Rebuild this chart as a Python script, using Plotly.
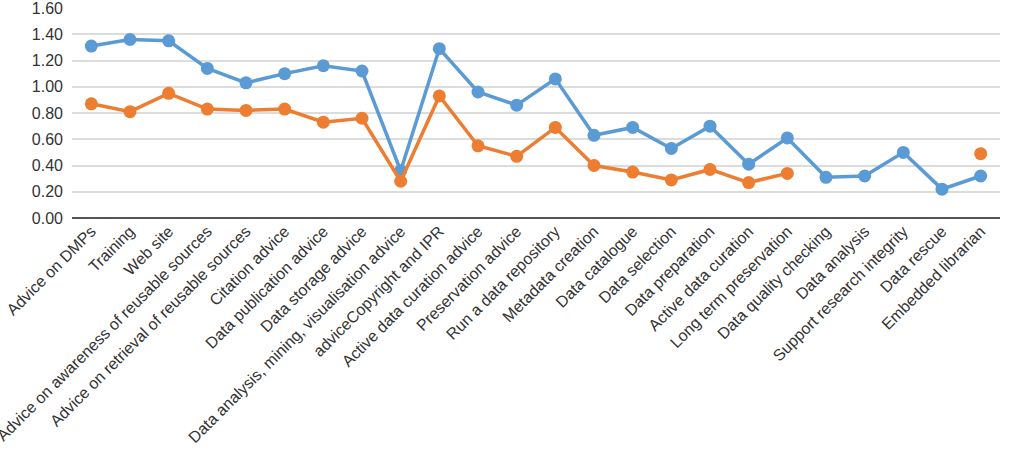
import plotly.graph_objects as go

categories = ["Advice on DMPs", "Training", "Web site", "Advice on awareness of reusable sources",
              "Advice on retrieval of reusable sources", "Citation advice", "Data publication advice",
              "Data storage advice", "Data analysis, mining, visualisation advice", "adviceCopyright and IPR",
              "Active data curation advice", "Preservation advice", "Run a data repository",
              "Metadata creation", "Data catalogue", "Data selection", "Data preparation",
              "Active data curation", "Long term preservation", "Data quality checking",
              "Data analysis", "Support research integrity", "Data rescue", "Embedded librarian"]

blue_values = [1.31, 1.36, 1.35, 1.14, 1.03, 1.10, 1.16, 1.12, 0.36, 1.29, 0.96, 0.86, 1.06,
               0.63, 0.69, 0.53, 0.70, 0.41, 0.61, 0.31, 0.32, 0.50, 0.22, 0.32]
orange_values = [0.87, 0.81, 0.95, 0.83, 0.82, 0.83, 0.73, 0.76, 0.28, 0.93, 0.55, 0.47, 0.69,
                 0.40, 0.35, 0.29, 0.37, 0.27, 0.34, None, None, None, None, 0.49]

y_ticks = [0.0, 0.2, 0.4, 0.6, 0.8, 1.0, 1.2, 1.4, 1.6]

x = list(range(len(categories)))

fig = go.Figure()
fig.add_trace(go.Scatter(x=x, y=blue_values, mode="lines+markers",
                         line=dict(color="#5B9BD5", width=3.5),
                         marker=dict(color="#5B9BD5", size=13), connectgaps=False))
fig.add_trace(go.Scatter(x=x, y=orange_values, mode="lines+markers",
                         line=dict(color="#ED7D31", width=3.5),
                         marker=dict(color="#ED7D31", size=13), connectgaps=False))

fig.update_layout(
    width=1012, height=453,
    margin=dict(l=72, r=12, t=8, b=235, autoexpand=False),
    paper_bgcolor="white", plot_bgcolor="white",
    showlegend=False,
    font=dict(family="Liberation Sans, Arial, sans-serif", color="#333333"),
)
fig.update_xaxes(
    tickmode="array", tickvals=x, ticktext=categories, tickangle=-45,
    range=[-0.5, len(categories) - 0.5], showgrid=False, automargin=False,
    showline=False, zeroline=False, tickfont=dict(size=16, color="#333333"),
    ticklabeloverflow="allow",
)
fig.update_yaxes(
    tickmode="array", tickvals=y_ticks, ticktext=[f"{v:.2f}" for v in y_ticks],
    range=[0, 1.6], showgrid=True, gridcolor="#dcdcdc", gridwidth=1.5,
    zeroline=True, zerolinecolor="#555555", zerolinewidth=2,
    automargin=False, tickfont=dict(size=16, color="#333333"), ticks="", ticklabelstandoff=8,
    ticklabeloverflow="allow",
)

fig.write_html("out.html")
